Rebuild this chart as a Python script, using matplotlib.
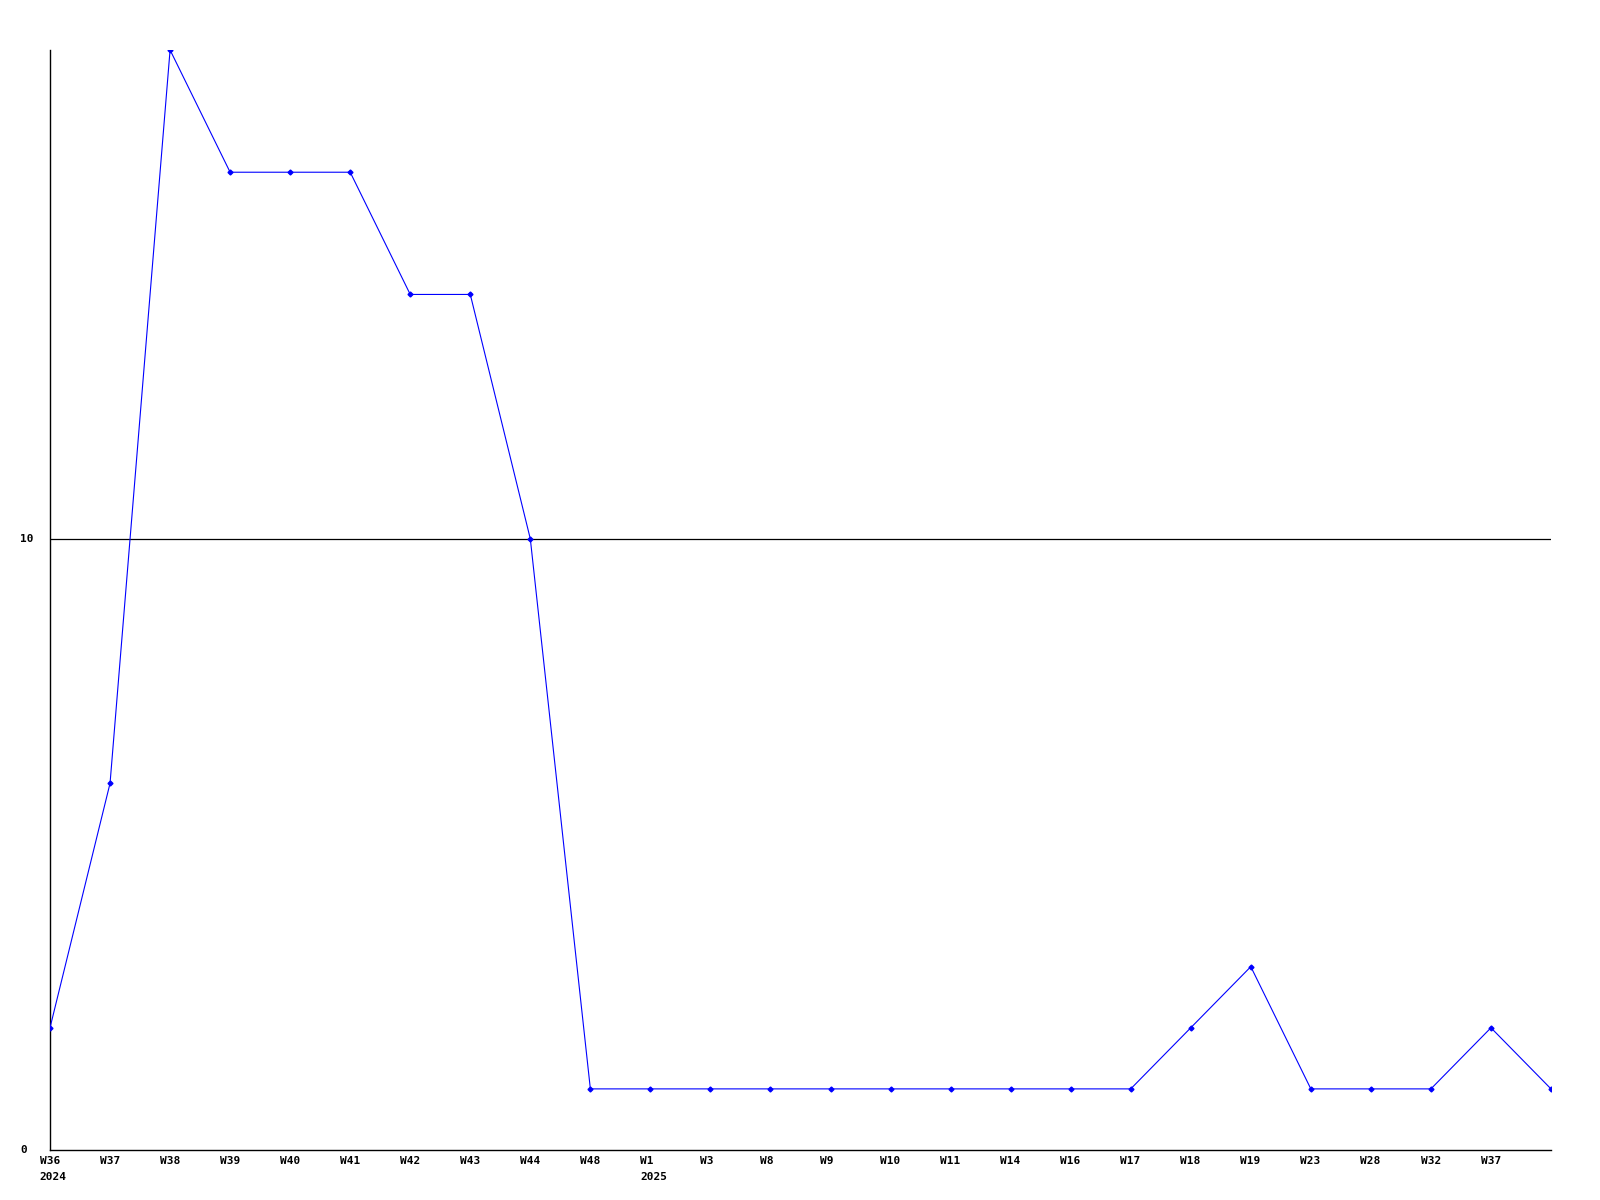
import matplotlib
matplotlib.use("Agg")
import matplotlib.pyplot as plt

# weekly values
weeks = ["W36", "W37", "W38", "W39", "W40", "W41", "W42", "W43", "W44", "W48",
         "W1", "W3", "W8", "W9", "W10", "W11", "W14", "W16", "W17", "W18",
         "W19", "W23", "W28", "W32", "W37", ""]
values = [2, 6, 18, 16, 16, 16, 14, 14, 10, 1,
          1, 1, 1, 1, 1, 1, 1, 1, 1, 2,
          3, 1, 1, 1, 2, 1]
year_labels = {0: "2024", 10: "2025"}
y_ticks = [0, 10]

font = dict(family="DejaVu Sans Mono", weight="bold", size=8)

fig = plt.figure(figsize=(16, 12), dpi=100)
ax = fig.add_axes([50 / 1600, 50 / 1200, 1501 / 1600, 1100 / 1200])

x = list(range(len(values)))
ax.plot(x, values, color="#0000ff", lw=0.8, marker="D", ms=2.5,
        mec="#0000ff", mfc="#0000ff", zorder=3)

ax.set_xlim(0, len(values) - 1)
ax.set_ylim(0, 18)

for s in ["top", "right"]:
    ax.spines[s].set_visible(False)
for s in ["left", "bottom"]:
    ax.spines[s].set_linewidth(1)
    ax.spines[s].set_color("black")

ax.set_xticks([])
ax.set_yticks([])

# horizontal reference line at 10
ax.axhline(10, color="black", lw=0.9, zorder=1)

# x labels: left aligned, a little left of the tick
trans = ax.get_xaxis_transform()
for i, w in enumerate(weeks):
    if not w:
        continue
    ax.annotate(w, xy=(i, 0), xycoords=trans, xytext=(-7.5, -4.5),
                textcoords="offset points", ha="left", va="top", **font)
for i, yr in year_labels.items():
    ax.annotate(yr, xy=(i, 0), xycoords=trans, xytext=(-7.5, -15.5),
                textcoords="offset points", ha="left", va="top", **font)

# y labels sit left aligned near the figure edge
for v in y_ticks:
    ax.annotate(str(v), xy=(0, v), xycoords=("axes fraction", "data"),
                xytext=(-21.5, 0), textcoords="offset points",
                ha="left", va="center", **font)

fig.savefig("out.png", dpi=100)
